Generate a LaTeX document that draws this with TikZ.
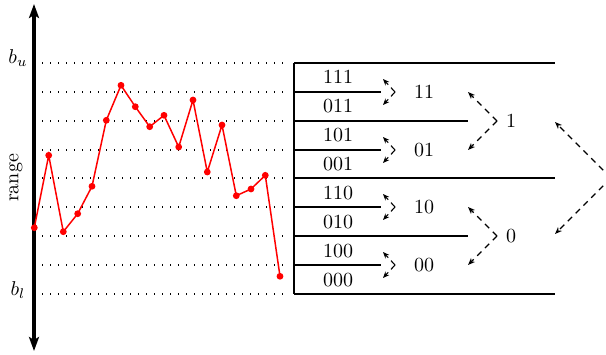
\documentclass[tikz,border=0pt]{standalone}
\usetikzlibrary{arrows.meta}
\begin{document}
\begin{tikzpicture}[x=0.5pt,y=-0.5pt,
  axisline/.style={line width=2pt,{Stealth[length=7pt,width=5pt,inset=1.5pt]}-{Stealth[length=7pt,width=5pt,inset=1.5pt]}},
  level/.style={line width=0.7pt,dash pattern=on 0.7pt off 3.3pt},
  boxline/.style={line width=0.75pt},
  curve/.style={red,line width=0.75pt},
  dot/.style={red,fill=red},
  smallarr/.style={densely dashed,line width=0.55pt,-{Stealth[length=3.2pt,width=2.6pt]}},
  bigarr/.style={dash pattern=on 3pt off 2.5pt,line width=0.6pt,-{Stealth[length=3.6pt,width=2.8pt]}},
  lbl/.style={inner sep=0pt,font=\normalsize}
]
\useasboundingbox (0,0) rectangle (606,354);
% main axis
\coordinate (atop) at (34,4);
\coordinate (abot) at (34,351);
\draw[axisline] (abot) -- (atop);
\node[lbl] (bu) at (18,58) {$b_u$};
\node[lbl] (bl) at (18,290) {$b_l$};
\node[lbl,rotate=90] (range) at (16,178) {range};
% dotted levels
\foreach \y [count=\i] in {63,92,121,150,178,207,236,265,294}{
  \coordinate (dl\i) at (42,\y);
  \coordinate (dr\i) at (288,\y);
  \draw[level] (dl\i) -- (dr\i);
}
% box
\coordinate (b0) at (294,63);
\coordinate (b8) at (294,294);
\draw[boxline] (b0) -- (b8);
\foreach \y/\xe [count=\i] in {63/555,92/381,121/468,150/381,178/555,207/381,236/468,265/381,294/555}{
  \coordinate (hl\i) at (294,\y);
  \coordinate (hr\i) at (\xe,\y);
  \draw[boxline] (hl\i) -- (hr\i);
}
% codes
\foreach \t/\y [count=\i] in {111/77,011/106,101/135,001/164,110/193,010/222,100/251,000/280}{
  \node[lbl] (c\i) at (338,\y) {\t};
}
% small groups
\foreach \y/\t [count=\i] in {92/11,150/01,207/10,265/00}{
  \coordinate (sv\i) at (395,\y);
  \coordinate (st\i) at (383,\y-13);
  \coordinate (sb\i) at (383,\y+13);
  \draw[smallarr] (sv\i) -- (st\i);
  \draw[smallarr] (sv\i) -- (sb\i);
  \node[lbl] (s\i) at (424,\y) {\t};
}
% medium groups
\foreach \y/\t [count=\i] in {121/1,236/0}{
  \coordinate (mv\i) at (497,\y);
  \coordinate (mt\i) at (468,\y-29);
  \coordinate (mb\i) at (468,\y+29);
  \draw[bigarr] (mv\i) -- (mt\i);
  \draw[bigarr] (mv\i) -- (mb\i);
  \node[lbl] (m\i) at (511,\y) {\t};
}
% big group
\coordinate (gv) at (611,178);
\coordinate (gt) at (555,122);
\coordinate (gb) at (555,234);
\draw[bigarr] (gv) -- (gt);
\draw[bigarr] (gv) -- (gb);
% red series
\foreach \x/\y [count=\i] in {34.3/227.7,48.7/155.3,63.3/231.7,77.7/213.7,92/186.3,106.3/120.3,121/85.3,135.3/106.7,149.7/126.7,164/115.3,178.7/147,193/100,207.3/172,222/125,236.3/195.7,251/189,265.3/175.3,280/276.3}{
  \coordinate (p\i) at (\x,\y);
}
\draw[curve] (p1) -- (p2) -- (p3) -- (p4) -- (p5) -- (p6) -- (p7) -- (p8) -- (p9) -- (p10) -- (p11) -- (p12) -- (p13) -- (p14) -- (p15) -- (p16) -- (p17) -- (p18);
\foreach \i in {1,...,18}{
  \fill[dot] (p\i) circle (1.7pt);
}
\end{tikzpicture}
\end{document}
